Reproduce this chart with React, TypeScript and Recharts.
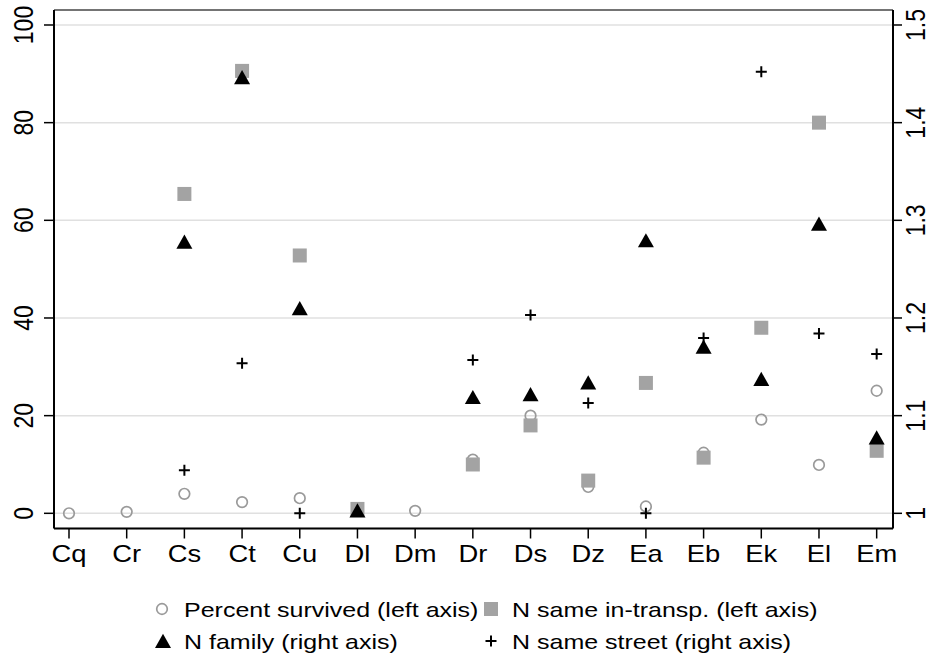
import React from 'react';
import { ComposedChart, Scatter, XAxis, YAxis, CartesianGrid, ReferenceLine } from 'recharts';

// Categories along the x axis
const categories = ['Cq', 'Cr', 'Cs', 'Ct', 'Cu', 'Dl', 'Dm', 'Dr', 'Ds', 'Dz', 'Ea', 'Eb', 'Ek', 'El', 'Em'];

// Left-axis series
const percentSurvived = [0, 0.3, 4.0, 2.3, 3.1, 0.9, 0.5, 11.0, 20.0, 5.4, 1.4, 12.4, 19.2, 9.9, 25.1];
const nSameInTransp = [null, null, 65.4, 90.6, 52.8, 0.9, null, 10.0, 18.0, 6.7, 26.7, 11.4, 38.0, 80.0, 12.8];

// Right-axis series
const nFamily = [null, null, 1.278, 1.4465, 1.21, 1.003, null, 1.119, 1.122, 1.134, 1.2795, 1.1705, 1.1375, 1.2965, 1.0776];
const nSameStreet = [null, null, 1.044, 1.1536, 1.0, null, null, 1.157, 1.203, 1.113, 1.0, 1.1795, 1.452, 1.184, 1.163];

// Tick values
const leftTicks = [0, 20, 40, 60, 80, 100];
const rightTicks = [1, 1.1, 1.2, 1.3, 1.4, 1.5];

const leftDomain: [number, number] = [-3.11, 103.07];
const rightDomain: [number, number] = [1 + leftDomain[0] / 200, 1 + leftDomain[1] / 200];
const xDomain: [number, number] = [-0.26, 14.283];

const FONT = '"Liberation Sans", Arial, Helvetica, sans-serif';
const STRETCH = 1.19;
const GREY_FILL = '#a3a3a3';
const GREY_LINE = '#9a9a9a';

const toPoints = (values: (number | null)[]) =>
  values
    .map((v, i) => ({ idx: i, value: v }))
    .filter((p) => p.value !== null && p.value !== undefined);

// Marker shapes
const CircleMark = ({ cx, cy }: any) => (
  <circle cx={cx} cy={cy} r={5.3} fill="none" stroke={GREY_LINE} strokeWidth={1.7} />
);
const SquareMark = ({ cx, cy }: any) => (
  <rect x={cx - 7} y={cy - 7} width={14} height={14} fill={GREY_FILL} />
);
const TriangleMark = ({ cx, cy }: any) => (
  <polygon points={`${cx},${cy - 7.2} ${cx - 8},${cy + 7} ${cx + 8},${cy + 7}`} fill="#000" />
);
const PlusMark = ({ cx, cy }: any) => (
  <path
    d={`M${cx - 5.5},${cy}H${cx + 5.5}M${cx},${cy - 5.5}V${cy + 5.5}`}
    stroke="#000"
    strokeWidth={2}
    fill="none"
  />
);

const series = [
  { name: 'Percent survived (left axis)', values: percentSurvived, axis: 'left', Mark: CircleMark },
  { name: 'N same in-transp. (left axis)', values: nSameInTransp, axis: 'left', Mark: SquareMark },
  { name: 'N family (right axis)', values: nFamily, axis: 'right', Mark: TriangleMark },
  { name: 'N same street (right axis)', values: nSameStreet, axis: 'right', Mark: PlusMark },
];

// Tick labels
const XTick = ({ x, payload }: any) => (
  <text
    transform={`translate(${x},562) scale(${STRETCH},1)`}
    textAnchor="middle"
    fontSize={23}
    fontFamily={FONT}
    fill="#000"
  >
    {categories[payload.value]}
  </text>
);

const LeftTick = ({ y, payload }: any) => (
  <text
    transform={`translate(33,${y}) rotate(-90) scale(1,${STRETCH})`}
    textAnchor="middle"
    fontSize={23}
    fontFamily={FONT}
    fill="#000"
  >
    {payload.value}
  </text>
);

const RightTick = ({ y, payload }: any) => (
  <text
    transform={`translate(925,${y}) rotate(-90) scale(1,${STRETCH})`}
    textAnchor="middle"
    fontSize={23}
    fontFamily={FONT}
    fill="#000"
  >
    {payload.value === 1 ? '1' : Number(payload.value).toFixed(1)}
  </text>
);

// Two-column legend under the plot
const legendSlots = [
  { mx: 162, tx: 184, cy: 609 },
  { mx: 491, tx: 512, cy: 609 },
  { mx: 163, tx: 184, cy: 641 },
  { mx: 491, tx: 512, cy: 641 },
];

const ChartLegend = () => (
  <svg width={929} height={663} style={{ position: 'absolute', left: 0, top: 0, pointerEvents: 'none' }}>
    {series.map((s, i) => {
      const slot = legendSlots[i];
      const { Mark } = s;
      return (
        <g key={s.name}>
          <Mark cx={slot.mx} cy={slot.cy} />
          <text
            transform={`translate(${slot.tx},${slot.cy + 7.5}) scale(${STRETCH},1)`}
            fontSize={21}
            fontFamily={FONT}
            fill="#000"
          >
            {s.name}
          </text>
        </g>
      );
    })}
  </svg>
);

export default function App() {
  return (
    <div style={{ position: 'absolute', left: 0, top: 0, width: 929, height: 663, background: '#fff' }}>
      <ComposedChart
        width={929}
        height={663}
        margin={{ top: 10, right: 0, bottom: 94.5, left: 0 }}
      >
        <CartesianGrid yAxisId="left" vertical={false} stroke="#e0e0e0" strokeWidth={1.5} />
        <XAxis
          type="number"
          dataKey="idx"
          domain={xDomain}
          allowDataOverflow
          ticks={categories.map((_, i) => i)}
          interval={0}
          height={40}
          tick={<XTick />}
          tickSize={10}
          tickLine={{ stroke: '#000', strokeWidth: 1.5 }}
          axisLine={{ stroke: '#000', strokeWidth: 2 }}
        />
        <YAxis
          yAxisId="left"
          orientation="left"
          type="number"
          domain={leftDomain}
          allowDataOverflow
          ticks={leftTicks}
          interval={0}
          width={54}
          tick={<LeftTick />}
          tickSize={10}
          tickLine={{ stroke: '#000', strokeWidth: 1.5 }}
          axisLine={{ stroke: '#000', strokeWidth: 2 }}
        />
        <YAxis
          yAxisId="right"
          orientation="right"
          type="number"
          domain={rightDomain}
          allowDataOverflow
          ticks={rightTicks}
          interval={0}
          width={36}
          tick={<RightTick />}
          tickSize={9}
          tickLine={{ stroke: '#000', strokeWidth: 1.5 }}
          axisLine={{ stroke: '#000', strokeWidth: 2 }}
        />
        <ReferenceLine yAxisId="left" y={leftDomain[1]} stroke="#000" strokeWidth={1} />
        {series.map((s) => (
          <Scatter
            key={s.name}
            name={s.name}
            data={toPoints(s.values)}
            dataKey="value"
            yAxisId={s.axis}
            shape={s.Mark}
            isAnimationActive={false}
          />
        ))}
      </ComposedChart>
      <ChartLegend />
    </div>
  );
}
